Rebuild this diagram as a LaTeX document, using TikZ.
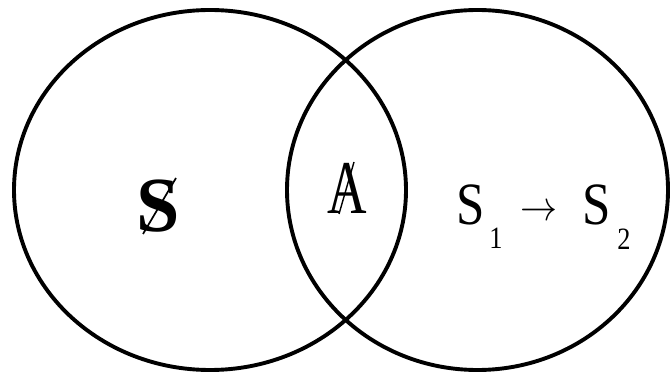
\documentclass[tikz,border=0pt]{standalone}
\usepackage{fontspec}
\setmainfont{Liberation Serif}
\usepackage{graphicx}
\tikzset{
  ring/.style={line width=3.9pt},
  glyph/.style={anchor=base, inner sep=0pt, outer sep=0pt},
  strike/.style={line width=1.7pt, line cap=butt}
}
\newcommand{\fs}[1]{\fontsize{#1}{#1}\selectfont}
\begin{document}
\begin{tikzpicture}[x=1pt,y=-1pt]
\useasboundingbox (0,0) rectangle (672,374);
\draw[ring] (210,190) ellipse [x radius=196pt, y radius=180pt];
\draw[ring] (477.5,190) ellipse [x radius=190.5pt, y radius=180pt];
% left region
\node[glyph] (sL) at (158,232) {\fs{78}\textbf{S}};
\coordinate (sLa) at (176,178);
\coordinate (sLb) at (143,234);
\draw[strike] (sLa) -- (sLb);
% middle region
\node[glyph] (aM) at (347,214) {\fs{76}\scalebox{0.72}[1]{A}};
\coordinate (aMa) at (354,162);
\coordinate (aMb) at (339,214);
\draw[strike, line width=1.4pt] (aMa) -- (aMb);
% right region
\node[glyph] (s1) at (471,225) {\fs{60}\scalebox{0.85}[1]{S}};
\node[glyph] (i1) at (496,248) {\fs{31}\scalebox{0.85}[1]{1}};
\node[anchor=center, inner sep=0pt] (ar) at (539,213) {\scalebox{3.7}[4.2]{$\rightarrow$}};
\node[glyph] (s2) at (597,225) {\fs{60}\scalebox{0.85}[1]{S}};
\node[glyph] (i2) at (624,249) {\fs{31}\scalebox{0.85}[1]{2}};
\end{tikzpicture}
\end{document}
